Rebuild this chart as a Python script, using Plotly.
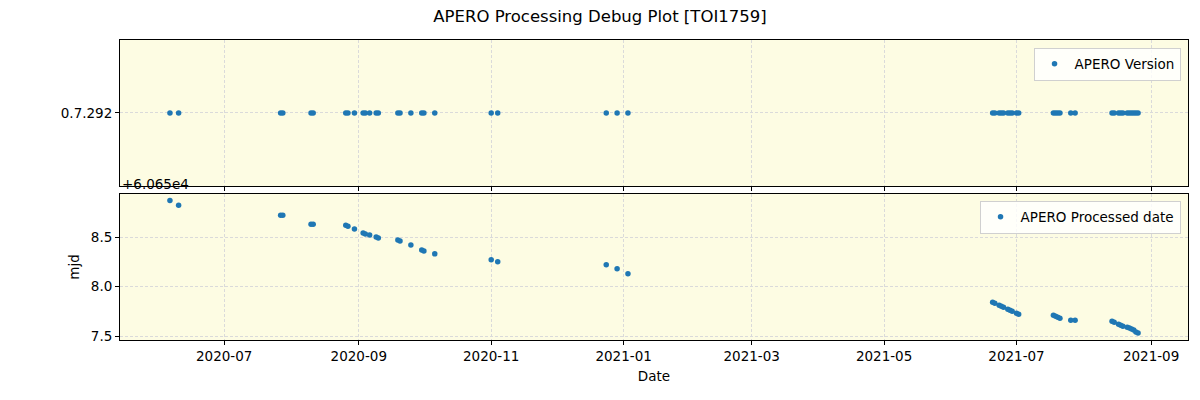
import plotly.graph_objects as go
from plotly.subplots import make_subplots

dates = ['2020-06-06', '2020-06-10', '2020-07-27', '2020-07-28', '2020-08-10', '2020-08-11',
         '2020-08-26', '2020-08-27', '2020-08-30', '2020-09-03', '2020-09-04', '2020-09-06',
         '2020-09-09', '2020-09-10', '2020-09-19', '2020-09-20', '2020-09-25', '2020-09-30',
         '2020-10-01', '2020-10-06', '2020-11-01', '2020-11-04', '2020-12-24', '2020-12-29',
         '2021-01-03',
         '2021-06-20', '2021-06-21', '2021-06-23', '2021-06-24', '2021-06-25', '2021-06-27',
         '2021-06-28', '2021-06-29', '2021-07-01', '2021-07-02',
         '2021-07-18', '2021-07-19', '2021-07-20', '2021-07-21', '2021-07-26', '2021-07-28',
         '2021-08-14', '2021-08-15', '2021-08-17', '2021-08-18', '2021-08-19', '2021-08-21',
         '2021-08-22', '2021-08-23', '2021-08-24', '2021-08-25', '2021-08-26']
mjd = [60658.87, 60658.82, 60658.72, 60658.72, 60658.63, 60658.63,
       60658.62, 60658.61, 60658.58, 60658.54, 60658.53, 60658.52,
       60658.50, 60658.49, 60658.47, 60658.46, 60658.42, 60658.37,
       60658.36, 60658.33, 60658.27, 60658.25, 60658.22, 60658.18,
       60658.13,
       60657.84, 60657.83, 60657.81, 60657.80, 60657.79, 60657.77,
       60657.76, 60657.75, 60657.73, 60657.72,
       60657.71, 60657.70, 60657.69, 60657.68, 60657.66, 60657.66,
       60657.65, 60657.64, 60657.62, 60657.61, 60657.60, 60657.59,
       60657.58, 60657.57, 60657.56, 60657.54, 60657.53]
version = ['0.7.292'] * len(dates)

mjd_ticks = [60657.5, 60658.0, 60658.5]
mjd_labels = ['7.5', '8.0', '8.5']

blue = '#1f77b4'
bg = '#fdfce3'
grid = '#dadada'
font = dict(family='DejaVu Sans', size=13.5, color='black')

# the page puts the figure 8px in from the top-left corner, so the figure is
# drawn 16px smaller and the margins are trimmed to land on the same spots
fig = make_subplots(rows=2, cols=1, shared_xaxes=True, vertical_spacing=0.027)

fig.add_trace(go.Scatter(x=dates, y=version, mode='markers', name='APERO Version',
                         marker=dict(color=blue, size=5.5), showlegend=True,
                         legend='legend'), 1, 1)
fig.add_trace(go.Scatter(x=dates, y=mjd, mode='markers', name='APERO Processed date',
                         marker=dict(color=blue, size=5.5), showlegend=True,
                         legend='legend2'), 2, 1)

leg = dict(xanchor='right', yanchor='top', bgcolor='rgba(255,255,255,0.8)',
           bordercolor='#d0d0d0', borderwidth=1, font=dict(size=13.5),
           itemwidth=30, tracegroupgap=0)

fig.update_layout(
    width=1184, height=384,
    margin=dict(l=112, r=4, t=32, b=52),
    paper_bgcolor='white', plot_bgcolor=bg,
    font=font, showlegend=True,
    title=dict(text='APERO Processing Debug Plot [TOI1759]', x=0.5, xanchor='center',
               xref='container', y=1 - 8 / 384, yref='container', yanchor='middle',
               font=dict(family='DejaVu Sans', size=16.5)),
    legend=dict(leg, x=0.993, y=0.975),
    legend2=dict(leg, x=0.993, y=0.465),
    annotations=[dict(text='+6.065e4', xref='paper', yref='paper', x=0, y=0.487,
                      xanchor='left', yanchor='bottom', showarrow=False,
                      font=dict(family='DejaVu Sans', size=13.5))],
)

fig.update_xaxes(type='date', range=['2020-05-14', '2021-09-18'],
                 tick0='2020-07-01', dtick='M2', tickformat='%Y-%m',
                 showgrid=True, gridcolor=grid, griddash='3px,2px', gridwidth=1,
                 showline=True, linecolor='black', linewidth=1, mirror=True,
                 ticks='outside', ticklen=4, tickcolor='black', zeroline=False,
                 automargin=False)
fig.update_xaxes(title_text='Date', title_font=dict(size=13.5), title_standoff=8, row=2, col=1)

fig.update_yaxes(type='category', range=[-1.3, 1.3], row=1, col=1)
fig.update_yaxes(range=[60657.46, 60658.934], tickvals=mjd_ticks, ticktext=mjd_labels,
                 title_text='mjd', title_font=dict(size=13.5), title_standoff=8, row=2, col=1)
fig.update_yaxes(showgrid=True, gridcolor=grid, griddash='3px,2px', gridwidth=1,
                 showline=True, linecolor='black', linewidth=1, mirror=True,
                 ticks='outside', ticklen=4, tickcolor='black', zeroline=False,
                 automargin=False)

fig.write_html("out.html")
